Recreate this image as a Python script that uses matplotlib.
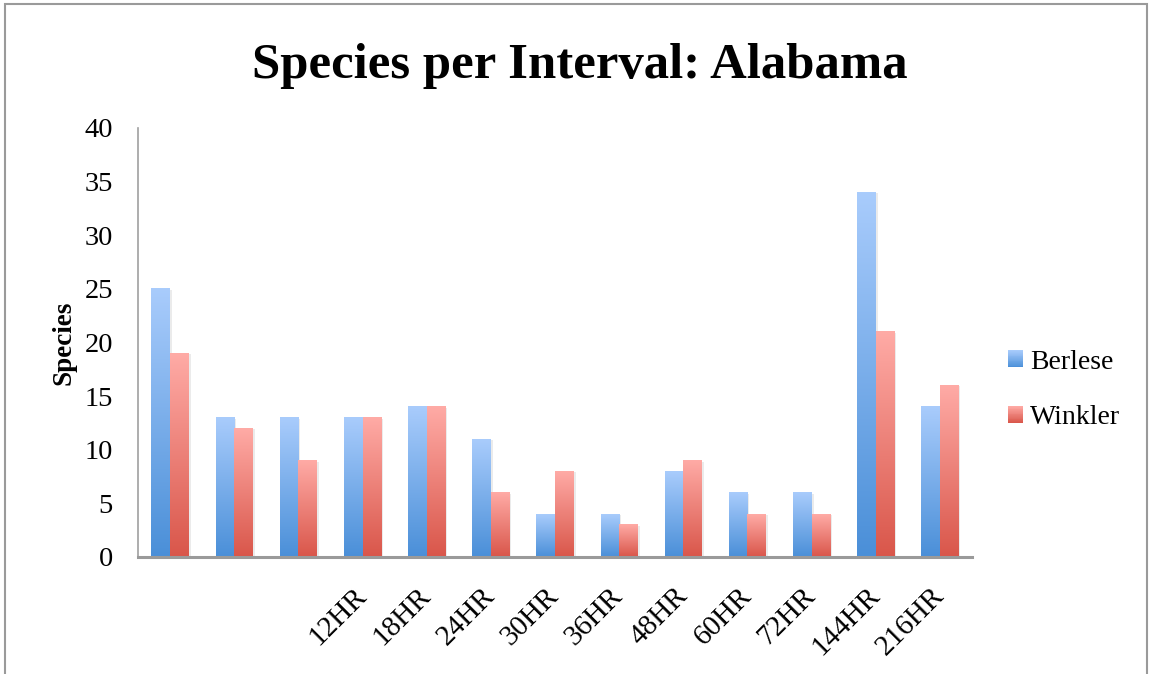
import numpy as np
import matplotlib
matplotlib.use("Agg")
import matplotlib.pyplot as plt
from matplotlib.patches import Rectangle, Patch
from matplotlib.colors import LinearSegmentedColormap
from matplotlib.legend_handler import HandlerBase

categories = ["", "", "", "12HR", "18HR", "24HR", "30HR", "36HR", "48HR", "60HR", "72HR", "144HR", "216HR"]
berlese = [25, 13, 13, 13, 14, 11, 4, 4, 8, 6, 6, 34, 14]
winkler = [19, 12, 9, 13, 14, 6, 8, 3, 9, 4, 4, 21, 16]
series_names = ["Berlese", "Winkler"]

plt.rcParams['font.family'] = ['Liberation Serif', 'DejaVu Serif']

W, H = 1151, 674
fig = plt.figure(figsize=(W / 100, H / 100), dpi=100)
fig.patch.set_facecolor("white")

# figure border
fig.add_artist(Rectangle((5 / W, -0.05), (W - 9) / W, 1.05 - 4 / H, transform=fig.transFigure,
                         fill=False, edgecolor="#9a9a9a", linewidth=1.5))

ax = fig.add_axes([138 / W, (H - 557) / H, (972 - 138) / W, (557 - 128) / H])
ax.set_facecolor("white")

blue_cmap = LinearSegmentedColormap.from_list("b", ["#4a8fd8", "#a9ccfc"])
red_cmap = LinearSegmentedColormap.from_list("r", ["#d9564a", "#ffaba6"])
grad = np.linspace(0, 1, 256).reshape(-1, 1)

x = np.arange(len(categories))
bw = 0.29
for vals, off, cmap in [(berlese, -bw / 2, blue_cmap), (winkler, bw / 2, red_cmap)]:
    bars = ax.bar(x + off, vals, width=bw, color="none", edgecolor="none")
    for b in bars:
        x0, w_, h_ = b.get_x(), b.get_width(), b.get_height()
        ax.add_patch(Rectangle((x0 + 0.03, 0), w_, h_ - 0.1, facecolor="#000000", alpha=0.08,
                               edgecolor="none", zorder=1))
        ax.imshow(grad, cmap=cmap, origin="lower", aspect="auto",
                  extent=[x0, x0 + w_, 0, h_], zorder=2, interpolation="bilinear")

ax.set_xlim(-0.5, len(categories) - 0.5)
ax.set_ylim(0, 40)
ax.set_yticks(np.arange(0, 41, 5))
ax.tick_params(axis="y", length=0, pad=18, labelsize=20.5)
ax.set_xticks(x)
ax.set_xticklabels(categories, rotation=45, ha="right", va="center", rotation_mode="anchor", fontsize=21)
ax.tick_params(axis="x", length=0, pad=25)

for s in ["top", "right"]:
    ax.spines[s].set_visible(False)
ax.spines["left"].set_color("#a0a0a0")
ax.spines["left"].set_linewidth(1.2)
ax.spines["bottom"].set_color("#9a9a9a")
ax.spines["bottom"].set_linewidth(2.2)

ax.set_ylabel("Species", fontsize=19.5, fontweight="bold", labelpad=6)

fig.text(580 / W, 1 - 66 / H, "Species per Interval: Alabama", ha="center", va="center",
         fontsize=36.5, fontweight="bold")


class GradHandler(HandlerBase):
    def __init__(self, cmap):
        super().__init__()
        self.cmap = cmap

    def create_artists(self, legend, orig_handle, xdescent, ydescent, width, height, fontsize, trans):
        n = 20
        arts = []
        for i in range(n):
            r = Rectangle((-xdescent, -ydescent + height * i / n), width, height / n + 0.3,
                          facecolor=self.cmap((i + 0.5) / n), edgecolor="none", transform=trans)
            arts.append(r)
        return arts


h1 = Patch(facecolor="#78adea", edgecolor="none")
h2 = Patch(facecolor="#f07e76", edgecolor="none")
fig.legend([h1, h2], series_names, loc="center left", bbox_to_anchor=(983 / W, 1 - 390 / H),
           frameon=False, fontsize=20, handlelength=0.55, handleheight=0.55, handletextpad=0.25,
           labelspacing=1.1,
           handler_map={h1: GradHandler(blue_cmap), h2: GradHandler(red_cmap)})

fig.savefig("out.png", dpi=100)
